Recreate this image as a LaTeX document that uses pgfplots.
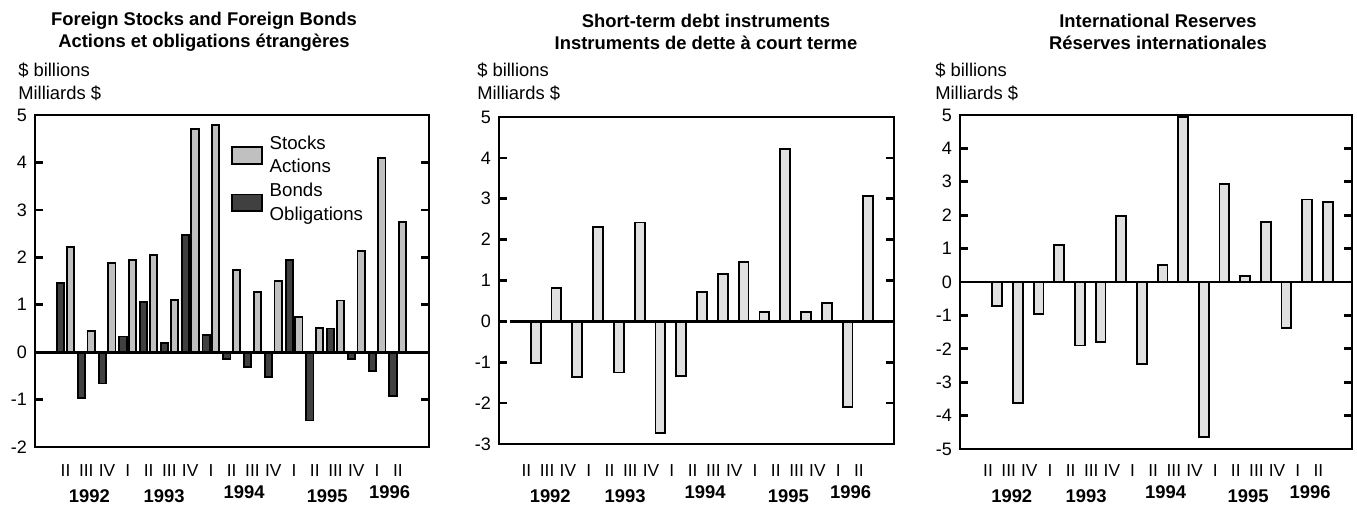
\documentclass[border=0pt]{standalone}
\usepackage{pgfplots}
\pgfplotsset{compat=1.18}
\usepackage{pgfplotstable}
\usepackage{fontspec}
\setmainfont{Liberation Sans}
\definecolor{lightbar}{RGB}{192,192,192}
\definecolor{darkbar}{RGB}{64,64,64}
\definecolor{palebar}{RGB}{224,224,224}

\pgfplotstableread{
k stocks bonds
1 2.22 1.46
2 0.45 -0.97
3 1.88 -0.66
4 1.94 0.33
5 2.05 1.05
6 1.10 0.20
7 4.70 2.47
8 4.79 0.37
9 1.74 -0.14
10 1.27 -0.32
11 1.50 -0.52
12 0.75 1.94
13 0.51 -1.44
14 1.09 0.50
15 2.13 -0.14
16 4.09 -0.40
17 2.74 -0.92
}\foreign

\pgfplotstableread{
k v
1 -1.02
2 0.81
3 -1.37
4 2.30
5 -1.25
6 2.42
7 -2.74
8 -1.34
9 0.72
10 1.15
11 1.45
12 0.24
13 4.22
14 0.23
15 0.46
16 -2.09
17 3.06
}\shortterm

\pgfplotstableread{
k v
1 -0.71
2 -3.63
3 -0.97
4 1.11
5 -1.90
6 -1.79
7 1.97
8 -2.45
9 0.52
10 4.95
11 -4.63
12 2.93
13 0.19
14 1.79
15 -1.37
16 2.47
17 2.39
}\reserves

\pgfplotsset{
 panel/.style={
  scale only axis,
  anchor=south west,
  axis line style={line width=2.1pt},
  clip=false,
  xticklabels={II,III,IV,I,II,III,IV,I,II,III,IV,I,II,III,IV,I,II},
  x tick style={draw=none},
  xtick pos=bottom,
  ytick pos=both,
  tick align=inside,
  major tick length=6pt,
  y tick style={line width=2pt, black},
  yticklabel style={font=\fontsize{13.5}{15}\selectfont, xshift=-2.5pt},
  xticklabel style={font=\fontsize{13}{14}\selectfont, anchor=north},
  /pgf/number format/assume math mode=true,
  axis background/.style={fill=white},
 },
}
\tikzset{yearlab/.style={font=\bfseries\fontsize{13.8}{15}\selectfont, anchor=center}}

\begin{document}
\begin{tikzpicture}
\path[use as bounding box] (0pt,0pt) rectangle (1017.75pt,-378pt);

% ---------- Panel 1 ----------
\begin{axis}[panel,
  at={(26.25pt,-335.25pt)}, width=295.5pt, height=249pt,
  xmin=-0.47, xmax=18.5, ymin=-2, ymax=5, ytick={-2,-1,0,1,2,3,4,5},
  xtick={1,2,3,4,5,6,7,8,9,10,11,12,13,14,15,16,17},
  xticklabel style={yshift=-3.5pt},
  ybar=1.85pt, bar width=5.4pt,
  reverse legend,
  legend image code/.code={\draw[#1, line width=1.4pt] (0pt,-6.2pt) rectangle (22.5pt,6.2pt);},
  legend style={at={(0.487,0.95)}, anchor=north west, draw=none, fill=none,
    font=\fontsize{14}{17.5}\selectfont, row sep=4.5pt,
    nodes={align=left, inner sep=1pt, inner xsep=5pt}},
  legend cell align=left,
]
\addplot[fill=darkbar, draw=black, line width=1.4pt] table[x=k, y=bonds] {\foreign};
\addplot[fill=lightbar, draw=black, line width=1.4pt] table[x=k, y=stocks] {\foreign};
\legend{Bonds\\Obligations, Stocks\\Actions}
\draw[line width=2.1pt] (axis cs:-0.47,0) -- (axis cs:18.5,0);
\node[yearlab, yshift=-36.75pt] at (axis cs:2.15,-2) {1992};
\node[yearlab, yshift=-36.75pt] at (axis cs:5.75,-2) {1993};
\node[yearlab, yshift=-34pt] at (axis cs:9.6,-2) {1994};
\node[yearlab, yshift=-36.75pt] at (axis cs:13.6,-2) {1995};
\node[yearlab, yshift=-34pt] at (axis cs:16.6,-2) {1996};
\end{axis}

% ---------- Panel 2 ----------
\begin{axis}[panel,
  at={(374.25pt,-333pt)}, width=296.25pt, height=245.25pt,
  xmin=-0.765, xmax=18.236, ymin=-3, ymax=5, ytick={-3,-2,-1,0,1,2,3,4,5},
  xtick={0.55,1.55,2.55,3.55,4.55,5.55,6.55,7.55,8.55,9.55,10.55,11.55,12.55,13.55,14.55,15.55,16.55},
  xticklabel style={yshift=-6pt},
  ybar=0pt, bar width=7.4pt,
]
\addplot[fill=palebar, draw=black, line width=1.4pt] table[x=k, y=v] {\shortterm};
\draw[line width=2.1pt] (axis cs:-0.24,0) -- (axis cs:18.236,0);
\node[yearlab, yshift=-39pt] at (axis cs:1.7,-3) {1992};
\node[yearlab, yshift=-39pt] at (axis cs:5.3,-3) {1993};
\node[yearlab, yshift=-36.25pt] at (axis cs:9.15,-3) {1994};
\node[yearlab, yshift=-39pt] at (axis cs:13.15,-3) {1995};
\node[yearlab, yshift=-36.25pt] at (axis cs:16.15,-3) {1996};
\end{axis}

% ---------- Panel 3 ----------
\begin{axis}[panel,
  at={(720pt,-336.75pt)}, width=294pt, height=250.5pt,
  xmin=-0.806, xmax=18.177, ymin=-5, ymax=5, ytick={-5,-4,-3,-2,-1,0,1,2,3,4,5},
  xtick={0.55,1.55,2.55,3.55,4.55,5.55,6.55,7.55,8.55,9.55,10.55,11.55,12.55,13.55,14.55,15.55,16.55},
  xticklabel style={yshift=-2pt},
  ybar=0pt, bar width=7.4pt,
]
\addplot[fill=palebar, draw=black, line width=1.4pt] table[x=k, y=v] {\reserves};
\draw[line width=2.1pt] (axis cs:-0.806,0) -- (axis cs:18.177,0);
\node[yearlab, yshift=-35.25pt] at (axis cs:1.7,-5) {1992};
\node[yearlab, yshift=-35.25pt] at (axis cs:5.3,-5) {1993};
\node[yearlab, yshift=-32.5pt] at (axis cs:9.15,-5) {1994};
\node[yearlab, yshift=-35.25pt] at (axis cs:13.15,-5) {1995};
\node[yearlab, yshift=-32.5pt] at (axis cs:16.15,-5) {1996};
\end{axis}

% ---------- Titles and unit labels ----------
\begin{scope}[every node/.style={inner sep=0pt}]
\node[align=center, font=\bfseries\fontsize{13.8}{16.5}\selectfont] at (153pt,-24pt)
  {Foreign Stocks and Foreign Bonds\\Actions et obligations étrangères};
\node[align=center, font=\bfseries\fontsize{13.8}{16.5}\selectfont] at (529.5pt,-24pt)
  {Short-term debt instruments\\Instruments de dette à court terme};
\node[align=center, font=\bfseries\fontsize{13.8}{16.5}\selectfont] at (868.5pt,-24pt)
  {International Reserves\\Réserves internationales};
\foreach \xx in {13.5pt,357.75pt,701.25pt}{
  \node[anchor=west, font=\fontsize{13.8}{16}\selectfont] at (\xx,-52.5pt) {\$ billions};
  \node[anchor=west, font=\fontsize{13.8}{16}\selectfont] at (\xx,-69.75pt) {Milliards \$};
}
\end{scope}
\end{tikzpicture}
\end{document}
